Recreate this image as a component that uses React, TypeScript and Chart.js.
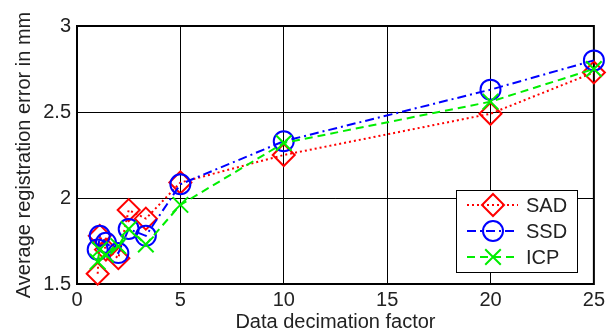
import React, { useEffect, useRef } from "react";
import { Chart, registerables } from "chart.js";

Chart.register(...registerables);

const decimation = [1, 1.1, 1.4, 2, 2.5, 3.33, 5, 10, 20, 25];
const sadValues = [1.56, 1.78, 1.7, 1.65, 1.93, 1.88, 2.09, 2.25, 2.49, 2.73];
const ssdValues = [1.7, 1.78, 1.74, 1.68, 1.82, 1.78, 2.08, 2.33, 2.63, 2.8];
const icpValues = [1.63, 1.7, 1.67, 1.72, 1.82, 1.73, 1.96, 2.32, 2.56, 2.75];
const seriesNames = ["SAD", "SSD", "ICP"];
const xTitle = "Data decimation factor";
const yTitle = "Average registration error in mm";

const FONT = "'Liberation Sans', Arial, sans-serif";
const TEXT = "#222";

const styles = [
  { color: "#ff0000", dash: [2, 3], point: "rectRot", radius: 11 },
  { color: "#0000ff", dash: [9, 4, 2, 4], point: "circle", radius: 10 },
  { color: "#00ee00", dash: [8, 5], point: "crossRot", radius: 11 },
];

function drawMarker(ctx: CanvasRenderingContext2D, type: string, x: number, y: number, r: number, color: string) {
  ctx.save();
  ctx.strokeStyle = color;
  ctx.lineWidth = 2;
  ctx.setLineDash([]);
  ctx.beginPath();
  if (type === "rectRot") {
    ctx.moveTo(x, y - r);
    ctx.lineTo(x + r, y);
    ctx.lineTo(x, y + r);
    ctx.lineTo(x - r, y);
    ctx.closePath();
  } else if (type === "circle") {
    ctx.arc(x, y, r, 0, Math.PI * 2);
  } else {
    const d = r * Math.SQRT1_2;
    ctx.moveTo(x - d, y - d);
    ctx.lineTo(x + d, y + d);
    ctx.moveTo(x + d, y - d);
    ctx.lineTo(x - d, y + d);
  }
  ctx.stroke();
  ctx.restore();
}

const frameAndLegend = {
  id: "frameAndLegend",
  beforeDatasetsDraw(chart: any) {
    const { ctx, chartArea: a } = chart;
    ctx.save();
    ctx.strokeStyle = "#000";
    ctx.lineWidth = 2;
    ctx.setLineDash([]);
    ctx.strokeRect(a.left, a.top, a.right - a.left, a.bottom - a.top);
    ctx.restore();
  },
  afterDraw(chart: any) {
    const { ctx } = chart;
    ctx.save();
    const bx = 456, by = 190, bw = 121, bh = 82;
    ctx.fillStyle = "#fff";
    ctx.fillRect(bx, by, bw, bh);
    ctx.strokeStyle = "#000";
    ctx.lineWidth = 1;
    ctx.setLineDash([]);
    ctx.strokeRect(bx + 0.5, by + 0.5, bw, bh);
    const rows = [205, 231, 257];
    seriesNames.forEach((name, i) => {
      const s = styles[i];
      const y = rows[i];
      ctx.strokeStyle = s.color;
      ctx.lineWidth = 2;
      ctx.setLineDash(s.dash);
      ctx.beginPath();
      ctx.moveTo(467, y);
      ctx.lineTo(518, y);
      ctx.stroke();
      drawMarker(ctx, s.point, 493, y, s.radius, s.color);
      ctx.fillStyle = TEXT;
      ctx.font = `20px ${FONT}`;
      ctx.textBaseline = "middle";
      ctx.textAlign = "left";
      ctx.fillText(name, 526, y + 1);
    });
    ctx.restore();
  },
};

export default function App() {
  const ref = useRef<HTMLCanvasElement>(null);
  useEffect(() => {
    if (!ref.current) return;
    const seriesValues = [sadValues, ssdValues, icpValues];
    const chart = new Chart(ref.current, {
      type: "line",
      data: {
        datasets: seriesNames.map((name, i) => ({
          label: name,
          data: decimation.map((x, j) => ({ x, y: seriesValues[i][j] })),
          borderColor: styles[i].color,
          backgroundColor: "transparent",
          borderWidth: 2,
          borderDash: styles[i].dash,
          pointStyle: styles[i].point as any,
          pointRadius: styles[i].radius,
          pointBorderWidth: 2,
          pointBorderColor: styles[i].color,
          pointBackgroundColor: "transparent",
          tension: 0,
          clip: false as any,
          order: 2 - i,
        })),
      },
      options: {
        responsive: false,
        animation: false,
        layout: { padding: { top: 26, right: 15, left: 0, bottom: 0 } },
        plugins: { legend: { display: false }, tooltip: { enabled: false } },
        scales: {
          x: {
            type: "linear",
            min: 0,
            max: 25,
            ticks: { stepSize: 5, color: TEXT, font: { family: FONT, size: 20 }, padding: 4 },
            grid: { color: "#000", lineWidth: 1, drawTicks: false },
            border: { color: "#000", width: 2 },
            title: { display: true, text: xTitle, color: TEXT, font: { family: FONT, size: 20 }, padding: { top: 0, bottom: -1 } },
            afterFit: (s: any) => { s.height = 49; },
          },
          y: {
            type: "linear",
            min: 1.5,
            max: 3,
            ticks: {
              stepSize: 0.5,
              color: TEXT,
              font: { family: FONT, size: 20 },
              padding: 6,
              callback: (v: any) => String(Number(v)),
            },
            grid: { color: "#000", lineWidth: 1, drawTicks: false },
            border: { color: "#000", width: 2 },
            title: { display: true, text: yTitle, color: TEXT, font: { family: FONT, size: 20 }, padding: { top: 12, bottom: 0 } },
            afterFit: (s: any) => { s.width = 77; },
          },
        },
      },
      plugins: [frameAndLegend],
    });
    return () => chart.destroy();
  }, []);
  return (
    <div style={{ position: "absolute", left: 0, top: 0, width: 609, height: 333, background: "#fff" }}>
      <canvas ref={ref} width={609} height={333} style={{ display: "block" }} />
    </div>
  );
}
